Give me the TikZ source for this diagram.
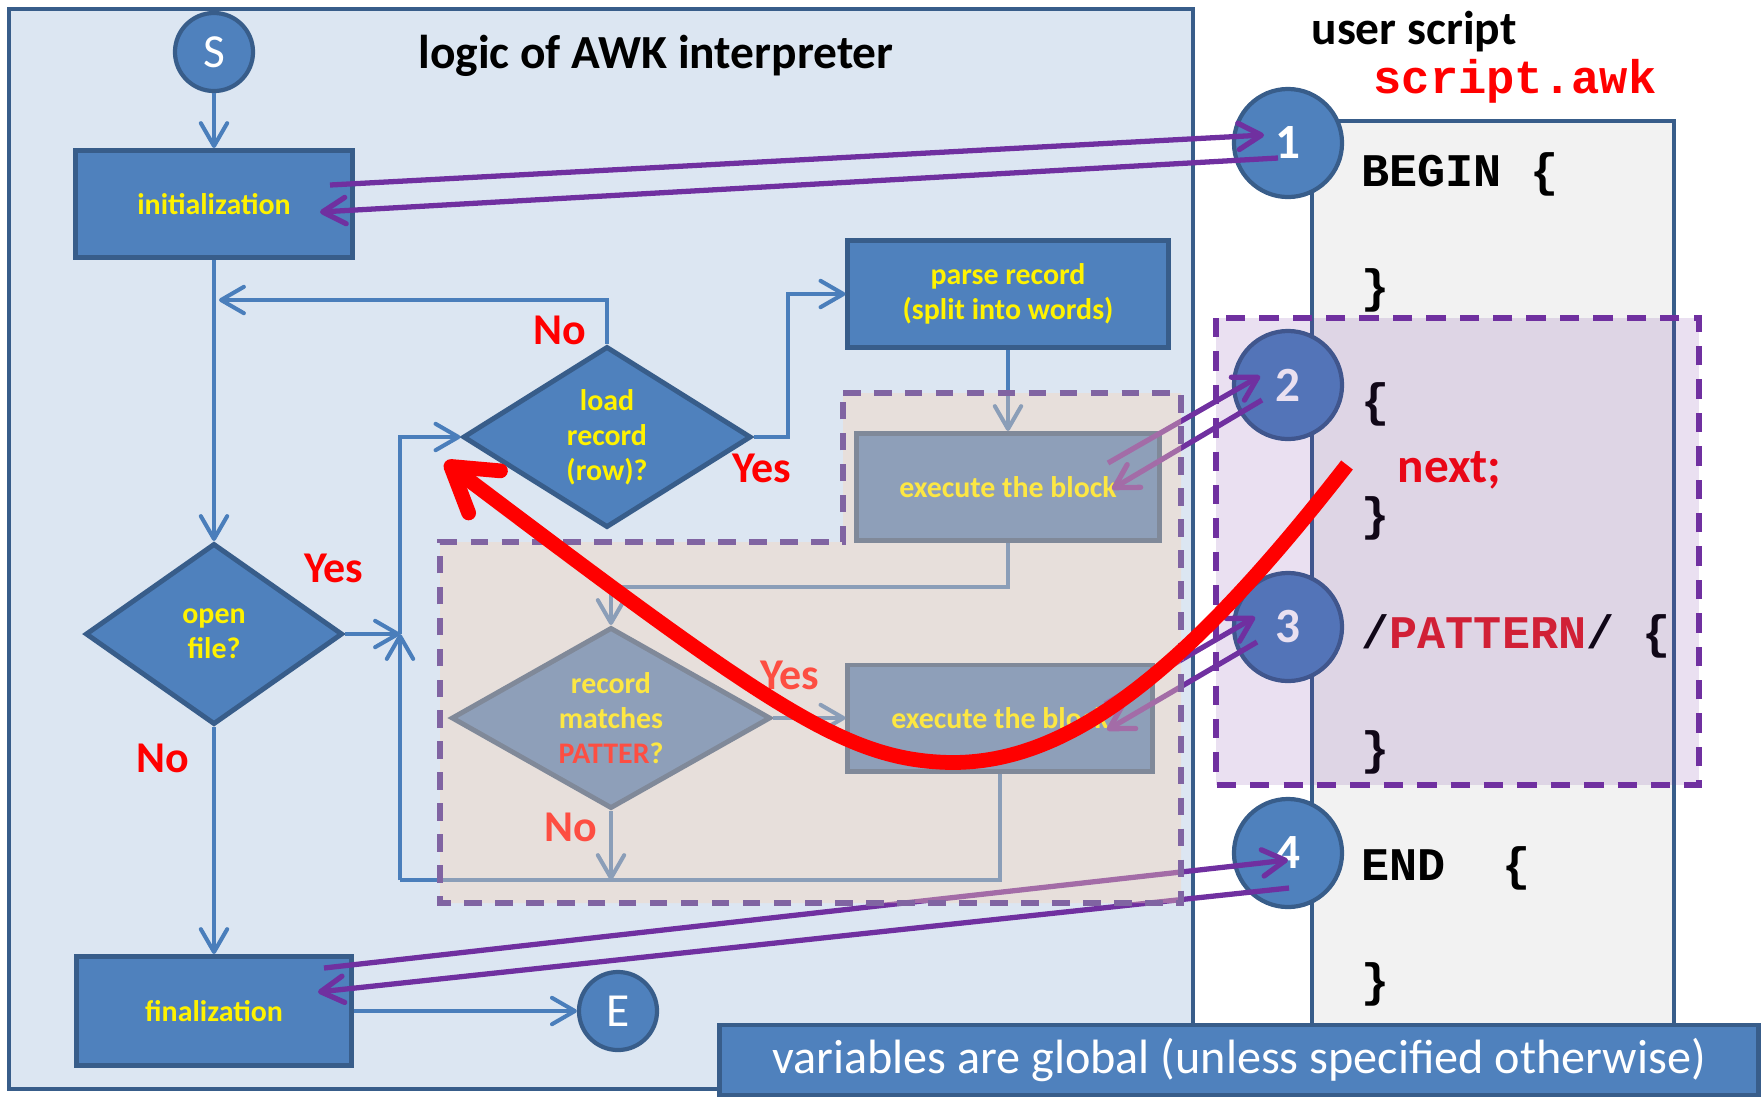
\documentclass[tikz,border=0pt]{standalone}
\usepackage{fontspec}
\setmainfont{Carlito}
\newfontfamily\codefont{Liberation Mono}
\usepackage{tikz}
\usetikzlibrary{arrows.meta}
\usetikzlibrary{shapes.geometric}
\usetikzlibrary{positioning}
\usetikzlibrary{calc}

\definecolor{panelblue}{HTML}{DCE6F2}
\definecolor{boxblue}{HTML}{4F81BD}
\definecolor{boxedge}{HTML}{385D8A}
\definecolor{lineblue}{HTML}{4A7EBB}
\definecolor{awkpurple}{HTML}{7030A0}
\definecolor{blockedge}{HTML}{8064A2}
\definecolor{blockfill}{HTML}{FCD5B4}
\definecolor{scriptgray}{HTML}{F2F2F2}
\definecolor{codered}{HTML}{E31E24}
\definecolor{labelred}{HTML}{FF0000}

\begin{document}
\begin{tikzpicture}[x=0.01cm,y=-0.01cm]
    \useasboundingbox (0,0) rectangle (1763,1096);

    \tikzset{proc/.style={rectangle,draw=boxedge,fill=boxblue,line width=1.4pt,text=yellow,font=\bfseries\fontsize{8.5}{10}\selectfont,align=center,inner sep=0pt}}
    \tikzset{decide/.style={proc,diamond,aspect=1.6}}
    \tikzset{term/.style={circle,draw=boxedge,fill=boxblue,line width=1.2pt,text=white,inner sep=0pt}}
    \tikzset{flow/.style={draw=lineblue,line width=1.15pt,-{Straight Barb[length=6.5pt,width=7.5pt,round]}}}
    \tikzset{yesno/.style={text=labelred,font=\bfseries\fontsize{12.5}{15}\selectfont}}

    % panels and headings
    \draw[boxedge,line width=1.4pt,fill=panelblue] (9,9) rectangle (1193,1089);
    \draw[boxedge,line width=1.3pt,fill=scriptgray] (1312,121) rectangle (1674,1025);
    \node[anchor=base,font=\bfseries\fontsize{13.5}{16}\selectfont] (title) at (656,68) {logic of AWK interpreter};
    \node[anchor=base,font=\bfseries\fontsize{13.5}{16}\selectfont] (user) at (1414,44) {user script};
    \node[anchor=base,text=labelred,font=\codefont\bfseries\fontsize{13.4}{16}\selectfont] (file) at (1515,93) {script.awk};

    % flowchart of the interpreter
    \node[term,minimum size=0.78cm,font=\fontsize{13.5}{16}\selectfont] (S) at (214,52) {S};
    \node[proc,minimum width=2.76cm,minimum height=1.07cm] (init) at (214,204) {initialization};
    \node[decide,minimum width=2.57cm,minimum height=1.81cm] (open) at (214,634) {open\\file?};
    \node[decide,minimum width=2.88cm,minimum height=1.81cm] (load) at (607,437) {load\\record\\(row)?};
    \node[proc,minimum width=3.2cm,minimum height=1.07cm] (parse) at (1008,294) {parse record\\(split into words)};
    \node[proc,minimum width=3.03cm,minimum height=1.07cm] (execA) at (1008,487) {execute the block};
    \node[decide,minimum width=3.19cm,minimum height=1.81cm] (match) at (611,718) {record\\matches\\{\color{labelred}PATTER}?};
    \node[proc,minimum width=3.04cm,minimum height=1.06cm] (execB) at (1000,718) {execute the block};
    \node[proc,minimum width=2.74cm,minimum height=1.09cm] (fin) at (214,1011) {finalization};
    \node[term,minimum size=0.78cm,font=\fontsize{13.5}{16}\selectfont] (E) at (618,1011) {E};

    \coordinate (back) at (219,300);
    \coordinate (matchno) at (611,880);
    \coordinate (loopbot) at (400,880);
    \coordinate (loopmid) at (400,634);

    \draw[flow] (S) -- (init);
    \draw[flow] (init) -- (open);
    \draw[flow] (load.north) |- (back);
    \draw[flow] (load.east) -- ++(34,0) |- (parse.west);
    \draw[flow] (parse) -- (execA);
    \draw[flow] (execA.south) -- ++(0,44) -| (match.north);
    \draw[flow] (match) -- (execB);
    \draw[flow] (match.south) -- (matchno);
    \draw[flow,-] (execB.south) |- (loopbot);
    \draw[flow] (loopbot) -- (loopmid);
    \draw[flow] (open) -- (loopmid);
    \draw[flow] (loopmid) |- (load.west);
    \draw[flow] (open) -- (fin);
    \draw[flow] (fin) -- (E);

    \node[yesno] (noL) at (560,330) {No};
    \node[yesno] (yesL) at (762,468) {Yes};
    \node[yesno] (yesO) at (334,568) {Yes};
    \node[yesno] (noO) at (163,758) {No};
    \node[yesno] (yesM) at (790,675) {Yes};
    \node[yesno] (noM) at (571,827) {No};

    % user script
    \foreach \i/\y in {1/143,2/385,3/627,4/853}
        \node[term,minimum size=1.08cm,font=\bfseries\fontsize{14}{16}\selectfont] (n\i) at (1288,\y) {\i};

    \tikzset{code/.style={anchor=base west,inner sep=0pt,font=\codefont\bfseries\fontsize{13.3}{16}\selectfont}}
    \node[code] (c1) at (1361,186) {BEGIN \{};
    \node[code] (c2) at (1361,302) {\}};
    \node[code] (c3) at (1361,416) {\{};
    \node[anchor=base west,inner sep=0pt,text=labelred,font=\bfseries\fontsize{14}{16}\selectfont] (c4) at (1397,482) {next;};
    \node[code] (c5) at (1361,530) {\}};
    \node[code] (c6) at (1361,648) {/\textcolor{codered}{PATTERN}/ \{};
    \node[code] (c7) at (1361,764) {\}};
    \node[code] (c8) at (1361,880) {END\ \ \{};
    \node[code] (c9) at (1361,996) {\}};

    % main block of the script
    \path[fill=awkpurple,fill opacity=0.15,draw=awkpurple,line width=1.7pt,dash pattern=on 5.5pt off 4pt] (1216,318) rectangle (1699,785);

    % calls between interpreter and script
    \tikzset{call/.style={draw=awkpurple,line width=1.5pt,-{Straight Barb[length=6.5pt,width=7.5pt,round]}}}
    \draw[call] ($(init)+(116,-19)$) -- ($(n1)+(-24,-8)$);
    \draw[call] ($(n1)+(-10,15)$) -- ($(init)+(106,8)$);
    \draw[call] ($(execA)+(100,-24)$) -- ($(n2)+(-28,-9)$);
    \draw[call] ($(n2)+(-26,15)$) -- ($(execA)+(104,2)$);
    \draw[call] ($(execB)+(105,-14)$) -- ($(n3)+(-33,-10)$);
    \draw[call] ($(n3)+(-31,15)$) -- ($(execB)+(107,12)$);
    \draw[call] ($(fin)+(110,-43)$) -- ($(n4)+(0,7)$);
    \draw[call] ($(n4)+(1,35)$) -- ($(fin)+(104,-19)$);

    % per-record part of the interpreter
    \path[fill=blockfill,fill opacity=0.37,draw=blockedge,line width=1.7pt,dash pattern=on 5pt off 3.8pt] (843,393) -- (1181,393) -- (1181,903) -- (440,903) -- (440,542) -- (843,542) -- cycle;

    % next; jumps back
    \coordinate (nextpt) at (1347,465);
    \coordinate (jump) at (445,462);
    \draw[red,line width=4.2pt,-{Straight Barb[length=12pt,width=15pt,round]}] (nextpt) .. controls (1180,680) and (1060,770) .. (938,762) .. controls (840,756) and (760,700) .. (jump);

    \node[draw=boxedge,fill=boxblue,line width=1.4pt,text=white,minimum width=10.39cm,minimum height=0.7cm,inner sep=0pt,font=\fontsize{13.7}{16}\selectfont] (note) at (1239,1060) {variables are global (unless specified otherwise)};

\end{tikzpicture}
\end{document}
